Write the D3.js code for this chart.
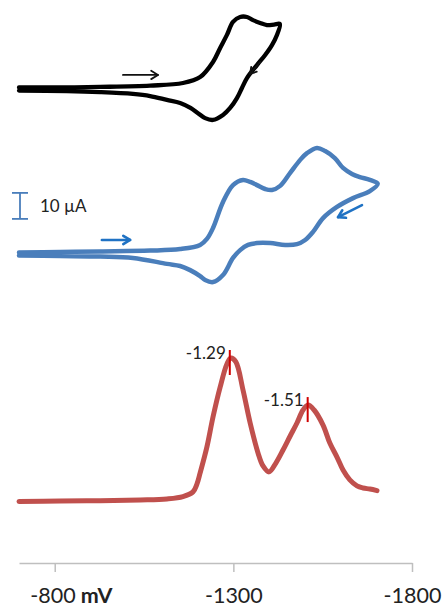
<!DOCTYPE html>
<html><head><meta charset="utf-8">
<script src="https://cdn.jsdelivr.net/npm/d3@7"></script>
<style>
html,body{margin:0;padding:0;background:#fff;}
svg{display:block;}
text{font-family:Lato,"Open Sans",sans-serif;}
</style></head>
<body><svg id="c" width="447" height="610"></svg>
<script>
// ---- data (potential in mV, current in µA relative to each trace's baseline) ----
const xTicks = [-800, -1300, -1800];
const xTickLabels = ["-800", "-1300", "-1800"];
const xUnit = "mV";

// Black CV: forward then reverse scan
const blackFwdE = [-700,-815,-927,-1067,-1159,-1207,-1243,-1263,-1282,-1299,-1319,-1338,-1355,-1375,-1394,-1414,-1430];
const blackFwdI = [0.6,0.6,0.8,1.3,2.3,4.6,10.4,15.8,20.8,25.8,27.7,27.7,26.5,25.4,24.6,24.8,25.0];
const blackRevE = [-1430,-1422,-1408,-1389,-1366,-1338,-1324,-1310,-1291,-1271,-1243,-1221,-1200,-1180,-1151,-1114,-1067,-1019,-927,-834,-700];
const blackRevI = [25.0,20.8,16.9,13.1,9.2,4.2,0.4,-3.5,-7.3,-10.0,-11.9,-11.2,-9.2,-7.3,-5.4,-4.2,-2.7,-1.9,-1.2,-0.8,-0.6];

// Blue CV
const blueFwdE = [-700,-815,-927,-1067,-1151,-1207,-1226,-1243,-1271,-1299,-1327,-1347,-1366,-1389,-1408,-1431,-1459,-1487,-1506,-1534,-1557,-1584,-1607,-1632,-1654,-1682,-1704];
const blueFwdI = [0.6,0.8,1.0,1.3,1.9,3.5,5.8,10.0,20.0,26.5,28.5,27.7,26.5,25.0,24.6,26.2,31.2,36.2,38.8,40.8,39.6,36.9,33.1,30.8,29.6,28.5,27.0];
const blueRevE = [-1704,-1682,-1635,-1590,-1551,-1523,-1501,-1478,-1445,-1403,-1366,-1341,-1319,-1299,-1271,-1243,-1221,-1207,-1179,-1151,-1114,-1019,-927,-815,-700];
const blueRevI = [27.0,24.2,21.5,18.1,13.8,8.5,5.4,3.8,3.5,4.2,4.2,3.5,1.5,-1.5,-8.1,-10.8,-10.0,-8.5,-6.2,-4.6,-3.8,-1.5,-1.0,-0.8,-0.6];

// Red DPV
const dpvE = [-700,-815,-927,-1039,-1114,-1159,-1187,-1198,-1207,-1226,-1243,-1263,-1282,-1293,-1307,-1327,-1347,-1369,-1383,-1400,-1419,-1439,-1459,-1478,-1495,-1509,-1526,-1551,-1570,-1590,-1607,-1626,-1646,-1663,-1682,-1702];
const dpvI = [-0.2,0,0.1,0.4,0.8,1.7,3.5,6.5,10.8,20.8,32.3,43.8,52.7,55.0,53.5,42.7,30.0,18.5,13.5,11.2,14.6,19.6,25.0,30.0,35.0,36.9,35.0,29.2,22.3,16.9,11.9,8.1,5.8,5.0,4.6,4.0];
const peakE = [-1290, -1508];
const peakI = [55.0, 36.9];
const peakLabels = ["-1.29", "-1.51"];

const scaleBarI = 10;
const scaleBarLabel = "10 µA";

// ---- layout ----
const svg = d3.select("#c");
const x = d3.scaleLinear().domain([-700, -1800]).range([19, 412]);
const pxPerUA = 2.6;
const yPanel = base => d3.scaleLinear().domain([0, 1]).range([base, base - pxPerUA]);
const yBlack = yPanel(89), yBlue = yPanel(254), yRed = yPanel(501);

const zip = (E, I) => E.map((e, k) => [e, I[k]]);
function drawTrace(points, y, color, width) {
  const line = d3.line().x(d => x(d[0])).y(d => y(d[1])).curve(d3.curveCatmullRom.alpha(0.5));
  svg.append("path").attr("d", line(points)).attr("fill", "none")
    .attr("stroke", color).attr("stroke-width", width)
    .attr("stroke-linejoin", "round").attr("stroke-linecap", "round");
}
drawTrace(zip(blackFwdE, blackFwdI).concat(zip(blackRevE, blackRevI).slice(1)), yBlack, "#000", 4.3);
drawTrace(zip(blueFwdE, blueFwdI).concat(zip(blueRevE, blueRevI).slice(1)), yBlue, "#4a7ebb", 4.5);
drawTrace(zip(dpvE, dpvI), yRed, "#c0504d", 5);

// arrows
function arrow(x1, y1, x2, y2, color, w, head) {
  const g = svg.append("g").attr("stroke", color).attr("stroke-width", w)
    .attr("fill", "none").attr("stroke-linecap", "round").attr("stroke-linejoin", "round");
  g.append("line").attr("x1", x1).attr("y1", y1).attr("x2", x2).attr("y2", y2);
  const a = Math.atan2(y2 - y1, x2 - x1), s = 0.55;
  g.append("path").attr("d",
    `M${x2 - head * Math.cos(a - s)},${y2 - head * Math.sin(a - s)}L${x2},${y2}L${x2 - head * Math.cos(a + s)},${y2 - head * Math.sin(a + s)}`);
}
// arrows placed in data coordinates
arrow(x(-991), yBlack(5.4), x(-1089), yBlack(5.4), "#111", 1.8, 8);
arrow(x(-1375), yBlack(10.4), x(-1347), yBlack(5.8), "#111", 1.8, 7);
arrow(x(-932), yBlue(5.4), x(-1011), yBlue(5.4), "#1f72c4", 2.6, 8);
arrow(x(-1660), yBlue(18.8), x(-1593), yBlue(14.2), "#1f72c4", 2.6, 8);

// peak markers
peakE.forEach((e, k) => {
  svg.append("line").attr("x1", x(e)).attr("x2", x(e))
    .attr("y1", yRed(peakI[k]) - 8).attr("y2", yRed(peakI[k]) + 17)
    .attr("stroke", "#d00000").attr("stroke-width", 2);
  svg.append("text").attr("x", x(e) - 4).attr("y", yRed(peakI[k]) + 1)
    .attr("text-anchor", "end").attr("font-size", 17).attr("fill", "#222")
    .text(peakLabels[k]);
});

// scale bar
const sbx = 20, sbTop = yBlue(23.5), sbBot = yBlue(23.5 - scaleBarI);
const sb = svg.append("g").attr("stroke", "#4a7ebb").attr("stroke-width", 1.8);
sb.append("line").attr("x1", sbx).attr("x2", sbx).attr("y1", sbTop).attr("y2", sbBot);
sb.append("line").attr("x1", sbx - 8).attr("x2", sbx + 8).attr("y1", sbTop).attr("y2", sbTop);
sb.append("line").attr("x1", sbx - 8).attr("x2", sbx + 8).attr("y1", sbBot).attr("y2", sbBot);
svg.append("text").attr("x", 40).attr("y", (sbTop + sbBot) / 2 + 6)
  .attr("font-size", 17).attr("fill", "#222").text(scaleBarLabel);

// x axis
const axis = d3.axisBottom(x).tickValues(xTicks)
  .tickFormat((d, k) => xTickLabels[k]).tickSize(9).tickSizeOuter(0).tickPadding(16);
const ag = svg.append("g").attr("transform", "translate(0,563)").call(axis);
ag.select(".domain").attr("stroke", "#bfbfbf").attr("stroke-width", 1.5);
ag.selectAll(".tick line").attr("stroke", "#bfbfbf").attr("stroke-width", 1.5);
ag.selectAll(".tick text").attr("font-size", 21.5).attr("fill", "#222")
  .attr("font-family", "Lato, 'Open Sans', sans-serif");
const first = ag.select(".tick text");
first.attr("text-anchor", "start").attr("x", -25);
first.append("tspan").attr("font-weight", "bold").text(" " + xUnit);
</script></body></html>
